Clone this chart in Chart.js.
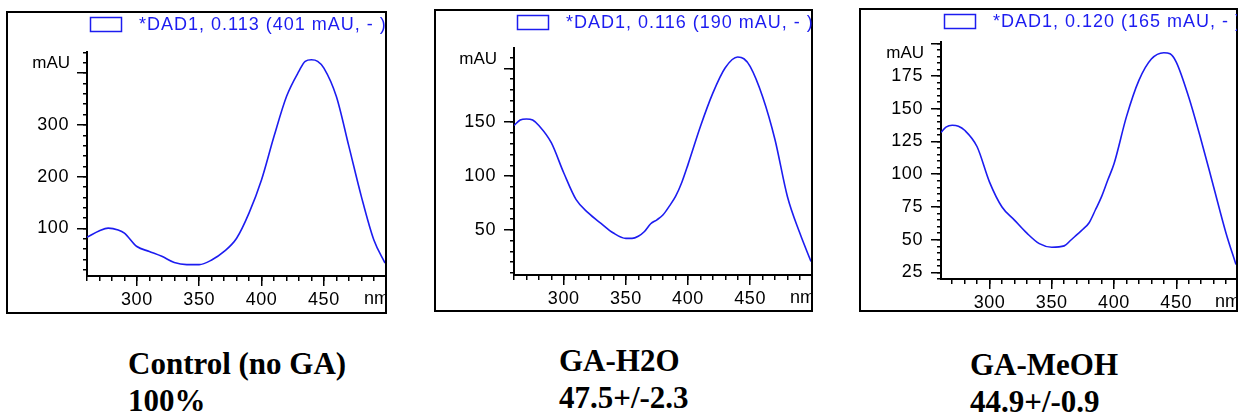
<!DOCTYPE html>
<html>
<head>
<meta charset="utf-8">
<script src="https://cdn.jsdelivr.net/npm/chart.js@4.4.1/dist/chart.umd.min.js"></script>
<style>
  body { margin: 0; background: #fff; width: 1238px; height: 415px; position: relative; overflow: hidden; }
  .frame { position: absolute; border: 2px solid #000; box-sizing: border-box; }
  canvas { position: absolute; }
  .cap { position: absolute; font: bold 31px "Liberation Serif", "Times New Roman", serif; line-height: 37px; color: #000; white-space: nowrap; }
</style>
</head>
<body>
<div class="frame" style="left:6px;top:11px;width:381px;height:303px"></div>
<div class="frame" style="left:434px;top:9px;width:379px;height:303px"></div>
<div class="frame" style="left:859px;top:8px;width:379px;height:304px"></div>
<canvas id="c1" width="379" height="301" style="left:7px;top:12px"></canvas>
<canvas id="c2" width="377" height="301" style="left:435px;top:10px"></canvas>
<canvas id="c3" width="377" height="302" style="left:860px;top:9px"></canvas>
<div class="cap" style="left:128px;top:345px">Control (no GA)<br>100%</div>
<div class="cap" style="left:559px;top:342px">GA-H2O<br>47.5+/-2.3</div>
<div class="cap" style="left:970px;top:346px">GA-MeOH<br>44.9+/-0.9</div>
<script>
// ================= DATA =================

const legend1 = "*DAD1, 0.113 (401 mAU, - )";
const wl1 = [260, 270, 277, 285, 290, 300, 310, 320, 330, 340, 350, 360, 370, 380, 390, 400, 410, 420, 430, 435, 440, 445, 450, 460, 470, 480, 490, 499];
const abs1 = [83, 95.5, 100.5, 97, 91, 65, 55.5, 46, 34, 30, 30, 39, 55.5, 81, 130, 194, 278, 355, 404, 423, 426, 423, 410, 355, 259, 162, 78, 33];
const yLabels1 = [100, 200, 300];

const legend2 = "*DAD1, 0.116 (190 mAU, - )";
const wl2 = [260, 265, 270, 275, 280, 290, 300, 310, 320, 330, 340, 350, 355, 360, 365, 370, 375, 380, 385, 390, 395, 400, 410, 420, 430, 440, 445, 450, 460, 470, 480, 490, 499];
const abs2 = [147, 152, 153, 152, 147, 131, 103, 78, 65.5, 56, 47, 42, 42, 44, 48.4, 55.6, 59.3, 64, 72, 81, 94, 110.6, 146, 177, 200.6, 210.6, 209, 202, 174, 134, 81, 47, 20.5];
const yLabels2 = [50, 100, 150];

const legend3 = "*DAD1, 0.120 (165 mAU, - )";
const wl3 = [261, 265, 270, 275, 280, 290, 300, 310, 320, 330, 340, 350, 360, 365, 370, 375, 380, 385, 390, 395, 400, 410, 420, 430, 440, 445, 450, 460, 470, 480, 490, 498];
const abs3 = [132, 136, 137.4, 136.7, 133.6, 121, 94, 75, 65, 55, 47, 44.3, 45.3, 49.4, 53.7, 58, 63, 72.7, 82.9, 95.6, 108, 144, 171.7, 188, 192.8, 192, 185.7, 159, 126, 90.5, 55, 31];
const yLabels3 = [25, 50, 75, 100, 125, 150, 175];

const xLabels = [300, 350, 400, 450];

// ================= STYLE =================

const BLUE = "#1c1cf0";
Chart.defaults.font.family = "'Liberation Sans', Arial, sans-serif";
Chart.defaults.font.size = 18;
Chart.defaults.color = "#000";

// legend box, mAU / nm labels
const panelDecor = {
  id: "panelDecor",
  beforeDraw(chart) {
    chart.ctx.letterSpacing = "0.6px";
  },
  afterDraw(chart) {
    const { ctx, chartArea } = chart;
    ctx.save();
    ctx.strokeStyle = BLUE;
    ctx.lineWidth = 1.5;
    ctx.strokeRect(chartArea.left + 3.5, 5.5, 31, 14);
    ctx.fillStyle = BLUE;
    ctx.font = "18px 'Liberation Sans', Arial, sans-serif";
    ctx.letterSpacing = "1px";
    ctx.textBaseline = "middle";
    ctx.textAlign = "left";
    ctx.fillText(chart.data.datasets[0].label, chartArea.left + 52, 13);

    ctx.fillStyle = "#000";
    ctx.font = "17px 'Liberation Sans', Arial, sans-serif";
    ctx.letterSpacing = "0px";
    ctx.textAlign = "right";
    ctx.fillText("mAU", chartArea.left - 17, chartArea.top + 11);
    ctx.textAlign = "left";
    ctx.textBaseline = "top";
    ctx.font = "18px 'Liberation Sans', Arial, sans-serif";
    ctx.fillText("nm", chartArea.right - 21, chartArea.bottom + 14);
    ctx.restore();
  }
};

function makePanel(id, label, wl, abs, xr, yr, major, minor, yLabels, pad, xH) {
  new Chart(document.getElementById(id), {
    type: "line",
    data: {
      datasets: [{
        label: label,
        data: wl.map((w, i) => ({ x: w, y: abs[i] })),
        borderColor: BLUE,
        borderWidth: 1.6,
        pointRadius: 0,
        cubicInterpolationMode: "monotone",
        fill: false
      }]
    },
    options: {
      responsive: false,
      animation: false,
      layout: { padding: { top: pad.top, right: 1, bottom: 0, left: 0 } },
      plugins: { legend: { display: false }, tooltip: { enabled: false } },
      scales: {
        x: {
          type: "linear", position: "bottom", weight: 1,
          min: xr[0], max: xr[1],
          afterFit: s => { s.height = xH; },
          border: { display: true, color: "#000", width: 2 },
          grid: { drawOnChartArea: false, drawTicks: true, tickLength: 10, color: "#000", lineWidth: 1.5 },
          ticks: {
            stepSize: 50, includeBounds: false, padding: 3, maxRotation: 0, autoSkip: false,
            callback: v => xLabels.includes(v) ? String(v) : ""
          }
        },
        x2: {
          type: "linear", axis: "x", position: "bottom", weight: 0,
          min: xr[0], max: xr[1],
          afterFit: s => { s.height = 0; },
          border: { display: false },
          grid: { drawOnChartArea: false, drawTicks: true, tickLength: 5, color: "#000", lineWidth: 1.5 },
          ticks: { display: false, stepSize: 10, includeBounds: false, autoSkip: false }
        },
        y: {
          type: "linear", position: "left", weight: 1,
          min: yr[0], max: yr[1],
          afterFit: s => { s.width = pad.left; },
          border: { display: true, color: "#000", width: 2 },
          grid: { drawOnChartArea: false, drawTicks: true, tickLength: 10, color: "#000", lineWidth: 1.5 },
          ticks: {
            stepSize: major, includeBounds: false, padding: 8, autoSkip: false,
            callback: v => yLabels.includes(v) ? String(v) : ""
          }
        },
        y2: {
          type: "linear", axis: "y", position: "left", weight: 0,
          min: yr[0], max: yr[1],
          afterFit: s => { s.width = 0; },
          border: { display: false },
          grid: { drawOnChartArea: false, drawTicks: true, tickLength: 4, color: "#000", lineWidth: 1.5 },
          ticks: { display: false, stepSize: minor, includeBounds: false, autoSkip: false }
        }
      }
    },
    plugins: [panelDecor]
  });
}

makePanel("c1", legend1, wl1, abs1, [260, 499], [8, 441], 100, 20, yLabels1, { top: 40, left: 80 }, 37);
makePanel("c2", legend2, wl2, abs2, [260, 499], [8, 219], 50, 10, yLabels2, { top: 38, left: 79 }, 36);
makePanel("c3", legend3, wl3, abs3, [261, 498], [20, 201], 25, 5, yLabels3, { top: 33, left: 81 }, 32);
</script>
</body>
</html>
